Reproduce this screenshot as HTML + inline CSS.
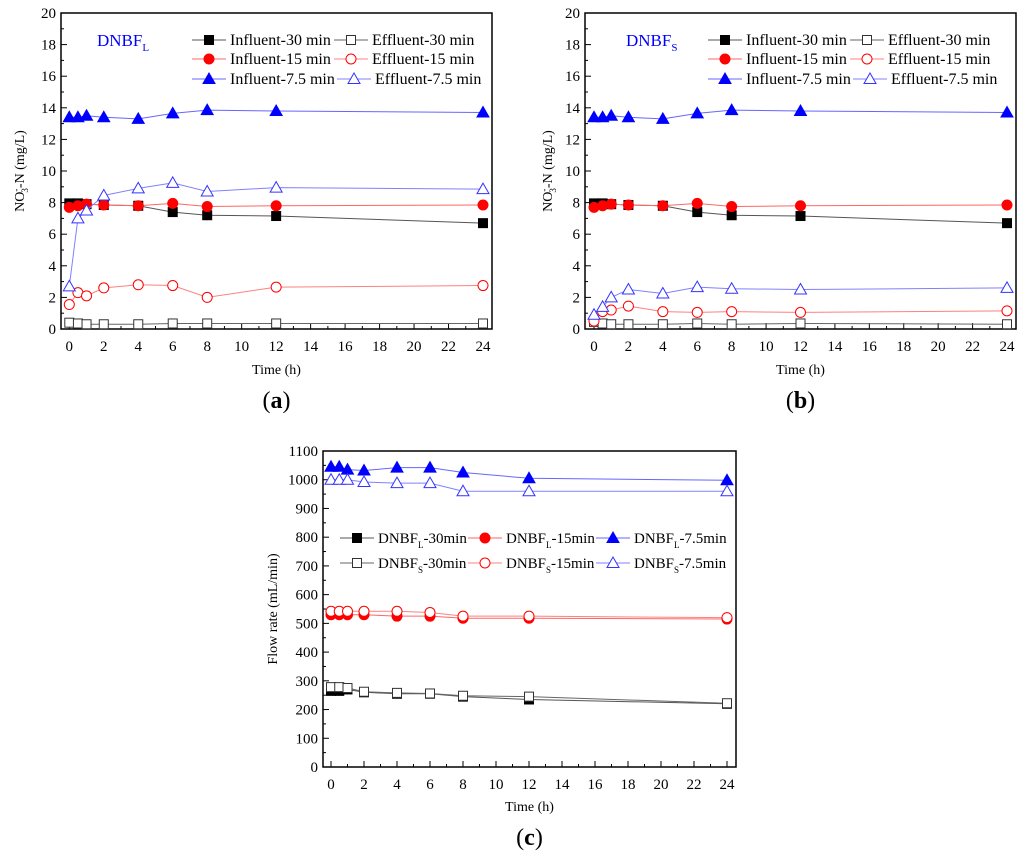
<!DOCTYPE html>
<html><head><meta charset="utf-8"><style>
body{margin:0;background:#fff;}
svg{display:block;font-family:"Liberation Serif",serif;}
</style></head><body>
<svg id="fig" width="1024" height="852" viewBox="0 0 1024 852"></svg>
<script>
const times = [0,0.5,1,2,4,6,8,12,24];
const aInf30 = [7.95,7.95,7.9,7.85,7.8,7.4,7.2,7.15,6.7];
const aEff30 = [0.4,0.35,0.3,0.3,0.3,0.35,0.35,0.35,0.35];
const aInf15 = [7.7,7.8,7.9,7.85,7.8,7.95,7.75,7.8,7.85];
const aEff15 = [1.55,2.3,2.1,2.6,2.8,2.75,2.0,2.65,2.75];
const aInf75 = [13.4,13.4,13.5,13.4,13.3,13.65,13.85,13.8,13.7];
const aEff75 = [2.7,7.0,7.5,8.45,8.9,9.25,8.7,8.95,8.85];
const bInf30 = [7.95,7.95,7.9,7.85,7.8,7.4,7.2,7.15,6.7];
const bEff30 = [0.45,0.35,0.3,0.3,0.3,0.35,0.3,0.35,0.3];
const bInf15 = [7.7,7.8,7.9,7.85,7.8,7.95,7.75,7.8,7.85];
const bEff15 = [0.5,1.1,1.2,1.45,1.1,1.05,1.1,1.05,1.15];
const bInf75 = [13.4,13.4,13.5,13.4,13.3,13.65,13.85,13.8,13.7];
const bEff75 = [0.9,1.4,2.0,2.5,2.25,2.65,2.55,2.5,2.6];
const cL30 = [265,265,270,260,255,255,245,235,220];
const cS30 = [278,278,275,262,258,256,248,245,222];
const cL15 = [530,530,530,530,525,525,518,518,515];
const cS15 = [542,542,542,542,542,538,525,525,520];
const cL75 = [1045,1045,1035,1032,1042,1042,1025,1005,998];
const cS75 = [1000,1000,1000,992,988,988,960,960,960];
const xTicks = [0,2,4,6,8,10,12,14,16,18,20,22,24];
const yTicksAB = [0,2,4,6,8,10,12,14,16,18,20];
const yTicksC = [0,100,200,300,400,500,600,700,800,900,1000,1100];

const NS='http://www.w3.org/2000/svg';
const svg=document.getElementById('fig');
function mk(tag,attrs,parent){const e=document.createElementNS(NS,tag);for(const k in attrs)e.setAttribute(k,attrs[k]);(parent||svg).appendChild(e);return e;}
function txt(x,y,s,size,parent,anchor,fill){const t=mk('text',{x:x,y:y,'font-size':size,'text-anchor':anchor||'middle',fill:fill||'#000'},parent);t.innerHTML=s;return t;}

function marker(g,kind,x,y,color){
  let e;
  const fill = kind.filled?color:'#fff';
  if(kind.shape==='sq'){e=mk('rect',{x:x-4.5,y:y-4.5,width:9,height:9,fill:fill,stroke:kind.filled?color:'#333','stroke-width':1},g);}
  else if(kind.shape==='ci'){e=mk('circle',{cx:x,cy:y,r:5,fill:fill,stroke:color,'stroke-width':1},g);}
  else {e=mk('polygon',{points:`${x},${y-6} ${x-6},${y+4.5} ${x+6},${y+4.5}`,fill:fill,stroke:color,'stroke-width':1},g);}
  
  
}

function panel(P){
  const g=mk('g',{});
  
  
  const xs=v=>P.x0+(v-0)*(P.x24-P.x0)/24;
  const ys=v=>P.b-(v/P.ymax)*(P.b-P.t);
  const frame=mk('rect',{x:P.l,y:P.t,width:P.r-P.l,height:P.b-P.t,fill:'none',stroke:'#000','stroke-width':1.5},g);
  
  for(let i=0;i<=24;i++){const x=xs(i);mk('line',{x1:x,x2:x,y1:P.b,y2:P.b-(i%2?3:6),stroke:'#000'},g);}
  xTicks.forEach(v=>{const t=txt(xs(v),P.b+22,v,15,g);});
  const step=P.yt[1]-P.yt[0];
  P.yt.forEach((v,i)=>{const y=ys(v);mk('line',{x1:P.l,x2:P.l+6,y1:y,y2:y,stroke:'#000'},g);
    if(i<P.yt.length-1){const ym=ys(v+step/2);mk('line',{x1:P.l,x2:P.l+3,y1:ym,y2:ym,stroke:'#000'},g);}
    const t=txt(P.l-5,y+5,v,15,g,'end');});
  const xt=txt((P.l+P.r)/2,P.xtY,'Time (h)',14,g);
  const yt=mk('text',{x:0,y:0,'font-size':14,'text-anchor':'middle',transform:`translate(${P.ytX},${(P.t+P.b)/2}) rotate(-90)`},g);
  yt.innerHTML=P.ytitle;
  P.series.forEach(s=>{
    const sg=mk('g',{},g);
    const pts=times.map((t,i)=>xs(t)+','+ys(s.data[i])).join(' ');
    mk('polyline',{points:pts,fill:'none',stroke:s.line,'stroke-width':1},sg);
    times.forEach((t,i)=>marker(sg,s.kind,xs(t),ys(s.data[i]),s.color));
  });
  P.legend.forEach(L=>{
    const lg=mk('g',{},g);
    mk('line',{x1:L.x,x2:L.x+34,y1:L.y,y2:L.y,stroke:L.s.line},lg);
    marker(lg,L.s.kind,L.x+17,L.y,L.s.color);
    const t=txt(L.x+38,L.y+5,L.label,L.fs||16,lg,'start');
  });
  if(P.tag){const t=txt(P.tag.x,P.tag.y,P.tag.s,17,g,'start','#0000ff');}
  const cap=txt((P.l+P.r)/2,P.capY,'(<tspan font-weight="bold">'+P.cap+'</tspan>)',24,g);
  
}

const K={bsq:{shape:'sq',filled:true},wsq:{shape:'sq',filled:false},bci:{shape:'ci',filled:true},wci:{shape:'ci',filled:false},btr:{shape:'tr',filled:true},wtr:{shape:'tr',filled:false}};
function mkSeries(d){return [
 {id:'inf30',data:d[0],kind:K.bsq,color:'#000',line:'#555'},
 {id:'eff30',data:d[1],kind:K.wsq,color:'#333',line:'#666'},
 {id:'inf15',data:d[2],kind:K.bci,color:'#ff0000',line:'#ff6666'},
 {id:'eff15',data:d[3],kind:K.wci,color:'#ff0000',line:'#ff8080'},
 {id:'inf75',data:d[4],kind:K.btr,color:'#0000ff',line:'#6666ff'},
 {id:'eff75',data:d[5],kind:K.wtr,color:'#3333ff',line:'#8080ff'}];}
const no3='NO<tspan font-size="9" dy="-5">-</tspan><tspan font-size="9" dy="9" dx="-4">3</tspan><tspan dy="-4">-N (mg/L)</tspan>';
function legAB(x1,x2,S){return [
 {x:x1,y:40,s:S[0],label:'Influent-30 min'},{x:x2,y:40,s:S[1],label:'Effluent-30 min'},
 {x:x1,y:59,s:S[2],label:'Influent-15 min'},{x:x2,y:59,s:S[3],label:'Effluent-15 min'},
 {x:x1,y:79,s:S[4],label:'Influent-7.5 min'},{x:x2+3,y:79,s:S[5],label:'Effluent-7.5 min'}];}
const SA=mkSeries([aInf30,aEff30,aInf15,aEff15,aInf75,aEff75]);
panel({name:'panel-a',l:61,r:492,t:13,b:329,x0:69.3,x24:483,ymax:20,yt:yTicksAB,ytitle:no3,ytX:24,xtY:374,capY:408,cap:'a',series:SA,legend:legAB(192,334,SA),tag:{x:97,y:46,s:'DNBF<tspan font-size="11" dy="5">L</tspan>'}});
const SB=mkSeries([bInf30,bEff30,bInf15,bEff15,bInf75,bEff75]);
panel({name:'panel-b',l:585,r:1016,t:13,b:329,x0:594,x24:1007,ymax:20,yt:yTicksAB,ytitle:no3,ytX:552,xtY:374,capY:408,cap:'b',series:SB,legend:legAB(708,850,SB),tag:{x:626,y:46,s:'DNBF<tspan font-size="11" dy="5">S</tspan>'}});
const SC=mkSeries([cL30,cS30,cL15,cS15,cL75,cS75]);
const sub=(s,n)=>'DNBF<tspan font-size="9" dy="5">'+s+'</tspan><tspan dy="-5">-'+n+'</tspan>';
panel({name:'panel-c',l:323,r:736,t:451,b:767,x0:331,x24:727,ymax:1100,yt:yTicksC,ytitle:'Flow rate (mL/min)',ytX:277,xtY:811,capY:845,cap:'c',series:SC,
 legend:[{x:340,y:538,s:SC[0],label:sub('L','30min'),fs:15},{x:468,y:538,s:SC[2],label:sub('L','15min'),fs:15},{x:596,y:538,s:SC[4],label:sub('L','7.5min'),fs:15},
 {x:340,y:563,s:SC[1],label:sub('S','30min'),fs:15},{x:468,y:563,s:SC[3],label:sub('S','15min'),fs:15},{x:596,y:563,s:SC[5],label:sub('S','7.5min'),fs:15}]});
</script>
</body></html>
